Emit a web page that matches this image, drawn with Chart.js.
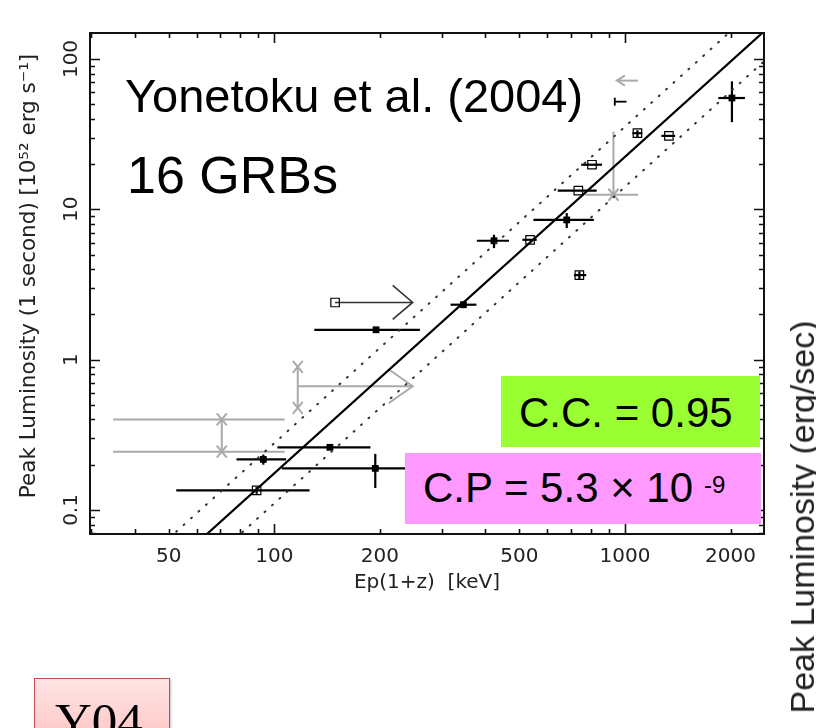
<!DOCTYPE html>
<html>
<head>
<meta charset="utf-8">
<title>Yonetoku relation</title>
<script src="https://cdn.jsdelivr.net/npm/chart.js@4.4.0/dist/chart.umd.min.js"></script>
<style>
    html, body { margin: 0; padding: 0; background: #fff; }
    #wrap { position: relative; width: 816px; height: 728px; overflow: hidden; }
    #chart { position: absolute; left: 0; top: 0; }
    .note {
        position: absolute;
        font-family: "Liberation Sans", Arial, sans-serif;
        line-height: 1;
        white-space: nowrap;
        color: #000;
    }
    .box { position: absolute; }
    #ccBox { left: 501px; top: 376px; width: 259px; height: 71px; background: #99ff33; }
    #cpBox { left: 405px; top: 453px; width: 356px; height: 71px; background: #ff99ff; }
    #sideLabel {
        position: absolute;
        left: 802px; top: 517px;
        transform: translate(-50%, -50%) rotate(-90deg);
        font-family: "Liberation Sans", Arial, sans-serif;
        font-size: 34px; line-height: 1; white-space: nowrap; color: #222;
    }
    #tag {
        position: absolute; left: 34px; top: 678px; width: 134px; height: 90px;
        border: 1.5px solid #c0504d;
        background: linear-gradient(#ffe4e4, #ffb8b8);
        box-shadow: 1px 1px 2px rgba(0,0,0,0.25);
    }
    #tagText {
        position: absolute; left: 55px; top: 696px;
        font-family: "Liberation Serif", "Times New Roman", serif;
        font-size: 51px; line-height: 1; color: #000;
    }
</style>
</head>
<body>
<div id="wrap">
    <canvas id="chart" width="816" height="728"></canvas>

    <div class="note" style="left:125px; top:72px; font-size:47px;">Yonetoku et al. (2004)</div>
    <div class="note" style="left:127px; top:149px; font-size:52px;">16 GRBs</div>

    <div class="box" id="ccBox"></div>
    <div class="note" style="left:519px; top:392px; font-size:42px;">C.C. = 0.95</div>

    <div class="box" id="cpBox"></div>
    <div class="note" style="left:423px; top:467px; font-size:42px;">C.P = 5.3 × 10</div>
    <div class="note" style="left:704px; top:473px; font-size:24px;">-9</div>

    <div id="sideLabel">Peak Luminosity (erg/sec)</div>

    <div id="tag"></div>
    <div id="tagText">Y04</div>
</div>

<script>
// Data: Ep(1+z) [keV] vs peak luminosity [1e52 erg/s]

// Filled squares (black)
const filledEp    = [2018, 682, 423, 346, 195, 144, 93, 194];
const filledLum   = [55, 8.5, 6.18, 2.32, 1.58, 0.261, 0.217, 0.189];
const filledEpLo  = [1845, 548, 378, 318, 130, 102, 78, 105];
const filledEpHi  = [2198, 815, 467, 377, 260, 188, 108, 300];
const filledLumLo = [38, 7.5, 5.52, 2.20, 1.58, 0.261, 0.200, 0.140];
const filledLumHi = [71, 9.44, 6.77, 2.44, 1.58, 0.261, 0.234, 0.236];

// Open squares
const openEp    = [1334, 1085, 805, 736, 536, 741, 89];
const openLum   = [30.8, 32.1, 19.8, 13.3, 6.27, 3.65, 0.135];
const openEpLo  = [1270, 1050, 750, 643, 510, 715, 52.5];
const openEpHi  = [1390, 1120, 860, 830, 560, 775, 126];
const openLumLo = [30.8, 30.2, 19.8, 13.3, 6.27, 3.43, 0.128];
const openLumHi = [30.8, 33.6, 19.8, 13.3, 6.27, 3.86, 0.142];

// Open square with lower limit arrow
const limitEp   = [149];
const limitLum  = [2.40];
const limitEpTo = [248];

// Grey limits
const greyArrowEp   = [116.6];
const greyArrowLum  = [0.665];
const greyArrowTo   = [248];
const greyArrowLumLo = [0.478];
const greyArrowLumHi = [0.894];

const greyPairEp    = [70.8];
const greyPairLum   = [0.244, 0.40];
const greyPairEpLo  = [34.7];
const greyPairEpHi  = [107];

const greyCornerEp   = [927];
const greyCornerLum  = [12.5];
const greyCornerLumHi = [32.9];
const greyCornerEpLo = [770];
const greyCornerEpHi = [1090];

const greyLeftLum  = [71.8];
const greyLeftFrom = [1090];
const greyLeftTo   = [948];

const smallBarLum  = [52];
const smallBarEpLo = [935];
const smallBarEpHi = [1010];

// Best fit line and its 1-sigma band
const fitEp    = [60, 2600];
const fitLum   = [0.0599, 167];
const upperEp  = [50, 2300];
const upperLum = [0.0647, 205];
const lowerEp  = [70, 2600];
const lowerLum = [0.0523, 105.5];

// Axis range and ticks
const xMin = 29.8, xMax = 2491;
const yMin = 0.0692, yMax = 148.9;
const xTickLabels = [50, 100, 200, 500, 1000, 2000];
const yTickLabels = [0.1, 1, 10, 100];
const xMajorTicks = [100, 1000];
const xMinorTicks = [30, 40, 50, 60, 70, 80, 90, 200, 300, 400, 500, 600, 700, 800, 900, 2000];
const yMajorTicks = [0.1, 1, 10, 100];
const yMinorTicks = [0.07, 0.08, 0.09, 0.2, 0.3, 0.4, 0.5, 0.6, 0.7, 0.8, 0.9,
                     2, 3, 4, 5, 6, 7, 8, 9, 20, 30, 40, 50, 60, 70, 80, 90];

const toPoints = (xs, ys) => xs.map((v, i) => ({ x: v, y: ys[i] }));

// Error bars, limit arrows and grey marks, drawn under the markers
const errorBarPlugin = {
    id: 'errorBars',
    beforeDatasetsDraw(chart) {
        const { ctx, chartArea: a, scales: { x, y } } = chart;
        const px = v => x.getPixelForValue(v);
        const py = v => y.getPixelForValue(v);

        const seg = (x1, y1, x2, y2) => {
            ctx.beginPath();
            ctx.moveTo(x1, y1);
            ctx.lineTo(x2, y2);
            ctx.stroke();
        };
        const cross = (cx, cy, s) => {
            seg(cx - s, cy - s - 1, cx + s, cy + s + 1);
            seg(cx - s, cy + s + 1, cx + s, cy - s - 1);
        };
        const arrowHead = (tx, ty, dir, len, half) => {
            ctx.beginPath();
            ctx.moveTo(tx - dir * len, ty - half);
            ctx.lineTo(tx, ty);
            ctx.lineTo(tx - dir * len, ty + half);
            ctx.stroke();
        };

        ctx.save();
        ctx.beginPath();
        ctx.rect(a.left, a.top, a.right - a.left, a.bottom - a.top);
        ctx.clip();
        ctx.lineCap = 'butt';

        // black error bars
        ctx.strokeStyle = '#000';
        ctx.lineWidth = 2.2;
        filledEp.forEach((v, i) => {
            seg(px(filledEpLo[i]), py(filledLum[i]), px(filledEpHi[i]), py(filledLum[i]));
            seg(px(v), py(filledLumLo[i]), px(v), py(filledLumHi[i]));
        });
        openEp.forEach((v, i) => {
            seg(px(openEpLo[i]), py(openLum[i]), px(openEpHi[i]), py(openLum[i]));
            seg(px(v), py(openLumLo[i]), px(v), py(openLumHi[i]));
        });

        // small black bar near the top
        ctx.lineWidth = 1.8;
        smallBarLum.forEach((v, i) => {
            seg(px(smallBarEpLo[i]), py(v), px(smallBarEpHi[i]), py(v));
            seg(px(smallBarEpLo[i]), py(v) - 4, px(smallBarEpLo[i]), py(v) + 4);
        });

        // lower limit arrow (dark)
        ctx.strokeStyle = '#333';
        ctx.lineWidth = 1.6;
        limitEp.forEach((v, i) => {
            const yy = py(limitLum[i]);
            seg(px(v), yy, px(limitEpTo[i]), yy);
            arrowHead(px(limitEpTo[i]), yy, 1, 20, 17);
        });

        // grey limits
        ctx.strokeStyle = '#aaa';
        ctx.lineWidth = 2;
        greyArrowEp.forEach((v, i) => {
            const xx = px(v);
            seg(xx, py(greyArrowLumLo[i]), xx, py(greyArrowLumHi[i]));
            cross(xx, py(greyArrowLumLo[i]), 5);
            cross(xx, py(greyArrowLumHi[i]), 5);
            const yy = py(greyArrowLum[i]);
            seg(xx, yy, px(greyArrowTo[i]), yy);
            arrowHead(px(greyArrowTo[i]), yy, 1, 24, 17);
        });
        greyPairEp.forEach((v, i) => {
            const xx = px(v);
            greyPairLum.forEach(l => {
                seg(px(greyPairEpLo[i]), py(l), px(greyPairEpHi[i]), py(l));
                cross(xx, py(l), 5);
            });
            seg(xx, py(greyPairLum[0]), xx, py(greyPairLum[1]));
        });
        greyCornerEp.forEach((v, i) => {
            const xx = px(v), yy = py(greyCornerLum[i]);
            seg(xx, yy, xx, py(greyCornerLumHi[i]));
            seg(px(greyCornerEpLo[i]), yy, px(greyCornerEpHi[i]), yy);
            cross(xx, yy, 5);
        });
        greyLeftLum.forEach((v, i) => {
            const yy = py(v);
            seg(px(greyLeftFrom[i]), yy, px(greyLeftTo[i]), yy);
            arrowHead(px(greyLeftTo[i]), yy, -1, 8, 5);
        });

        ctx.restore();
    }
};

// Frame, inward ticks on four sides, tick labels and axis titles
const framePlugin = {
    id: 'frameTicks',
    afterDraw(chart) {
        const { ctx, chartArea: a, scales: { x, y } } = chart;
        ctx.save();
        ctx.strokeStyle = '#111';
        ctx.lineWidth = 1.6;

        const tickX = (v, len) => {
            const xx = Math.round(x.getPixelForValue(v)) + 0.5;
            ctx.beginPath();
            ctx.moveTo(xx, a.bottom); ctx.lineTo(xx, a.bottom - len);
            ctx.moveTo(xx, a.top); ctx.lineTo(xx, a.top + len);
            ctx.stroke();
        };
        const tickY = (v, len) => {
            const yy = Math.round(y.getPixelForValue(v)) + 0.5;
            ctx.beginPath();
            ctx.moveTo(a.left, yy); ctx.lineTo(a.left + len, yy);
            ctx.moveTo(a.right, yy); ctx.lineTo(a.right - len, yy);
            ctx.stroke();
        };
        xMajorTicks.forEach(v => tickX(v, 10));
        xMinorTicks.forEach(v => tickX(v, 5));
        yMajorTicks.forEach(v => tickY(v, 10));
        yMinorTicks.forEach(v => tickY(v, 5));

        ctx.lineWidth = 2;
        ctx.strokeRect(a.left, a.top, a.right - a.left, a.bottom - a.top);

        // tick labels
        ctx.fillStyle = '#222';
        ctx.font = '20px "DejaVu Sans", sans-serif';
        ctx.textAlign = 'center';
        ctx.textBaseline = 'alphabetic';
        xTickLabels.forEach(v => {
            ctx.fillText(String(v), x.getPixelForValue(v), a.bottom + 27.5);
        });
        yTickLabels.forEach(v => {
            ctx.save();
            ctx.translate(a.left - 13.5, y.getPixelForValue(v));
            ctx.rotate(-Math.PI / 2);
            ctx.fillText(String(v), 0, 0);
            ctx.restore();
        });

        // axis titles
        ctx.fillText('Ep(1+z)  [keV]', 427, a.bottom + 54);
        ctx.save();
        ctx.font = '21.5px "DejaVu Sans", sans-serif';
        ctx.translate(35, 276);
        ctx.rotate(-Math.PI / 2);
        ctx.fillText('Peak Luminosity (1 second) [10\u2075\u00b2 erg s\u207b\u00b9]', 0, 0);
        ctx.restore();

        ctx.restore();
    }
};

const ctx = document.getElementById('chart');

new Chart(ctx, {
    type: 'scatter',
    data: {
        datasets: [
            {
                type: 'line',
                data: toPoints(fitEp, fitLum),
                borderColor: '#000',
                borderWidth: 2.2,
                pointRadius: 0
            },
            {
                type: 'line',
                data: toPoints(upperEp, upperLum),
                borderColor: '#333',
                borderWidth: 2,
                borderDash: [1, 9],
                borderCapStyle: 'round',
                pointRadius: 0
            },
            {
                type: 'line',
                data: toPoints(lowerEp, lowerLum),
                borderColor: '#333',
                borderWidth: 2,
                borderDash: [1, 9],
                borderCapStyle: 'round',
                pointRadius: 0
            },
            {
                data: toPoints(filledEp, filledLum),
                pointStyle: 'rect',
                pointRadius: 4.8,
                backgroundColor: '#000',
                borderColor: '#000',
                borderWidth: 0
            },
            {
                data: toPoints(openEp, openLum).concat(toPoints(limitEp, limitLum)),
                pointStyle: 'rect',
                pointRadius: 6,
                backgroundColor: 'rgba(0,0,0,0)',
                borderColor: '#000',
                borderWidth: 1.2
            }
        ]
    },
    options: {
        responsive: false,
        animation: false,
        events: [],
        layout: { padding: { left: 90, top: 33, right: 52, bottom: 194 } },
        plugins: {
            legend: { display: false },
            tooltip: { enabled: false }
        },
        scales: {
            x: { type: 'logarithmic', min: xMin, max: xMax, display: false },
            y: { type: 'logarithmic', min: yMin, max: yMax, display: false }
        }
    },
    plugins: [errorBarPlugin, framePlugin]
});
</script>
</body>
</html>
